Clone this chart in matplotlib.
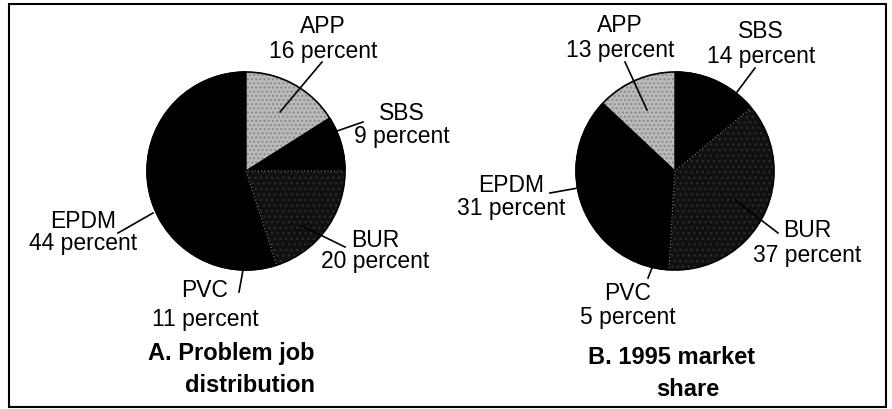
import matplotlib.pyplot as plt
from matplotlib.patches import Rectangle, Circle, Wedge

plt.rcParams['font.family'] = ['Liberation Sans', 'DejaVu Sans']

# data (percent)
names_a = ['APP', 'SBS', 'BUR', 'PVC', 'EPDM']
share_a = [16, 9, 20, 11, 44]
names_b = ['SBS', 'BUR', 'PVC', 'EPDM', 'APP']
share_b = [14, 37, 5, 31, 13]
title_a = ['A. Problem job', 'distribution']
title_b = ['B. 1995 market', 'share']

fills = {'APP': '#bababa', 'SBS': 'black', 'BUR': '#101010',
         'PVC': 'black', 'EPDM': 'black'}

# layout in pixel coords (y down): label x, baselines, leader line
lab_a = {'APP': (323, 33, 58, (322, 62), (280, 112)),
         'SBS': (402, 120, 143, (363, 122), (337, 131)),
         'EPDM': (83, 228, 250, (118, 233), (153, 213)),
         'BUR': (375, 247, 268, (345, 247), (302, 226)),
         'PVC': (205, 297, 326, (239, 292), (243, 270))}
lab_b = {'APP': (620, 32, 57, (625, 62), (647, 110)),
         'SBS': (761, 38, 63, (755, 68), (737, 92)),
         'EPDM': (511, 192, 215, (550, 193), (578, 188)),
         'BUR': (807, 237, 262, (778, 233), (735, 200)),
         'PVC': (628, 300, 324, (648, 278), (652, 268))}

W, H = 892, 409
R = 99
fig = plt.figure(figsize=(W / 100, H / 100), dpi=100)
ax = fig.add_axes([0, 0, 1, 1])


def draw_pie(names, vals, center, labs, title, tpos):
    # y axis is flipped later, so counterclock in data = clockwise on screen
    wedges, _ = ax.pie(vals, center=center, radius=R, startangle=-90,
                       counterclock=True, colors=[fills[n] for n in names],
                       wedgeprops=dict(linewidth=1, edgecolor='black'))
    for w, n in zip(wedges, names):
        if n == 'APP':
            w.set_hatch('....')
            w.set_edgecolor('#8a8a8a')
            w.set_linewidth(0)
            w.set_zorder(0.9)
        if n == 'BUR':
            w.set_hatch('...')
            w.set_edgecolor('#2c2c2c')
            w.set_linewidth(0)
            w.set_zorder(0.9)
            # faint dotted seams along the BUR edges
            ax.add_patch(Wedge(w.center, w.r, w.theta1, w.theta2, fill=False,
                               ec='#707070', lw=0.9, ls=':', zorder=1.1))
    ax.add_patch(Circle(center, R, fill=False, ec='black', lw=1.2, zorder=1.2))
    for n, v in zip(names, vals):
        x, b1, b2, p0, p1 = labs[n]
        ax.text(x, b1, n, ha='center', va='baseline', fontsize=16.5)
        ax.text(x, b2, '%d percent' % v, ha='center', va='baseline', fontsize=16.5)
        ax.plot([p0[0], p1[0]], [p0[1], p1[1]], color='black', lw=1.2, zorder=2)
    for s, (x, y) in zip(title, tpos):
        ax.text(x, y, s, ha='center', va='baseline', fontsize=17, fontweight='bold')


draw_pie(names_a, share_a, (246, 171), lab_a, title_a, [(231, 360), (250, 392)])
draw_pie(names_b, share_b, (675, 171), lab_b, title_b, [(672, 364), (688, 396)])

ax.add_patch(Rectangle((9, 4), 877, 403, fill=False, ec='black', lw=1.5))

ax.set_xlim(0, W)
ax.set_ylim(H, 0)
ax.axis('off')

fig.savefig('out.png', dpi=100)
